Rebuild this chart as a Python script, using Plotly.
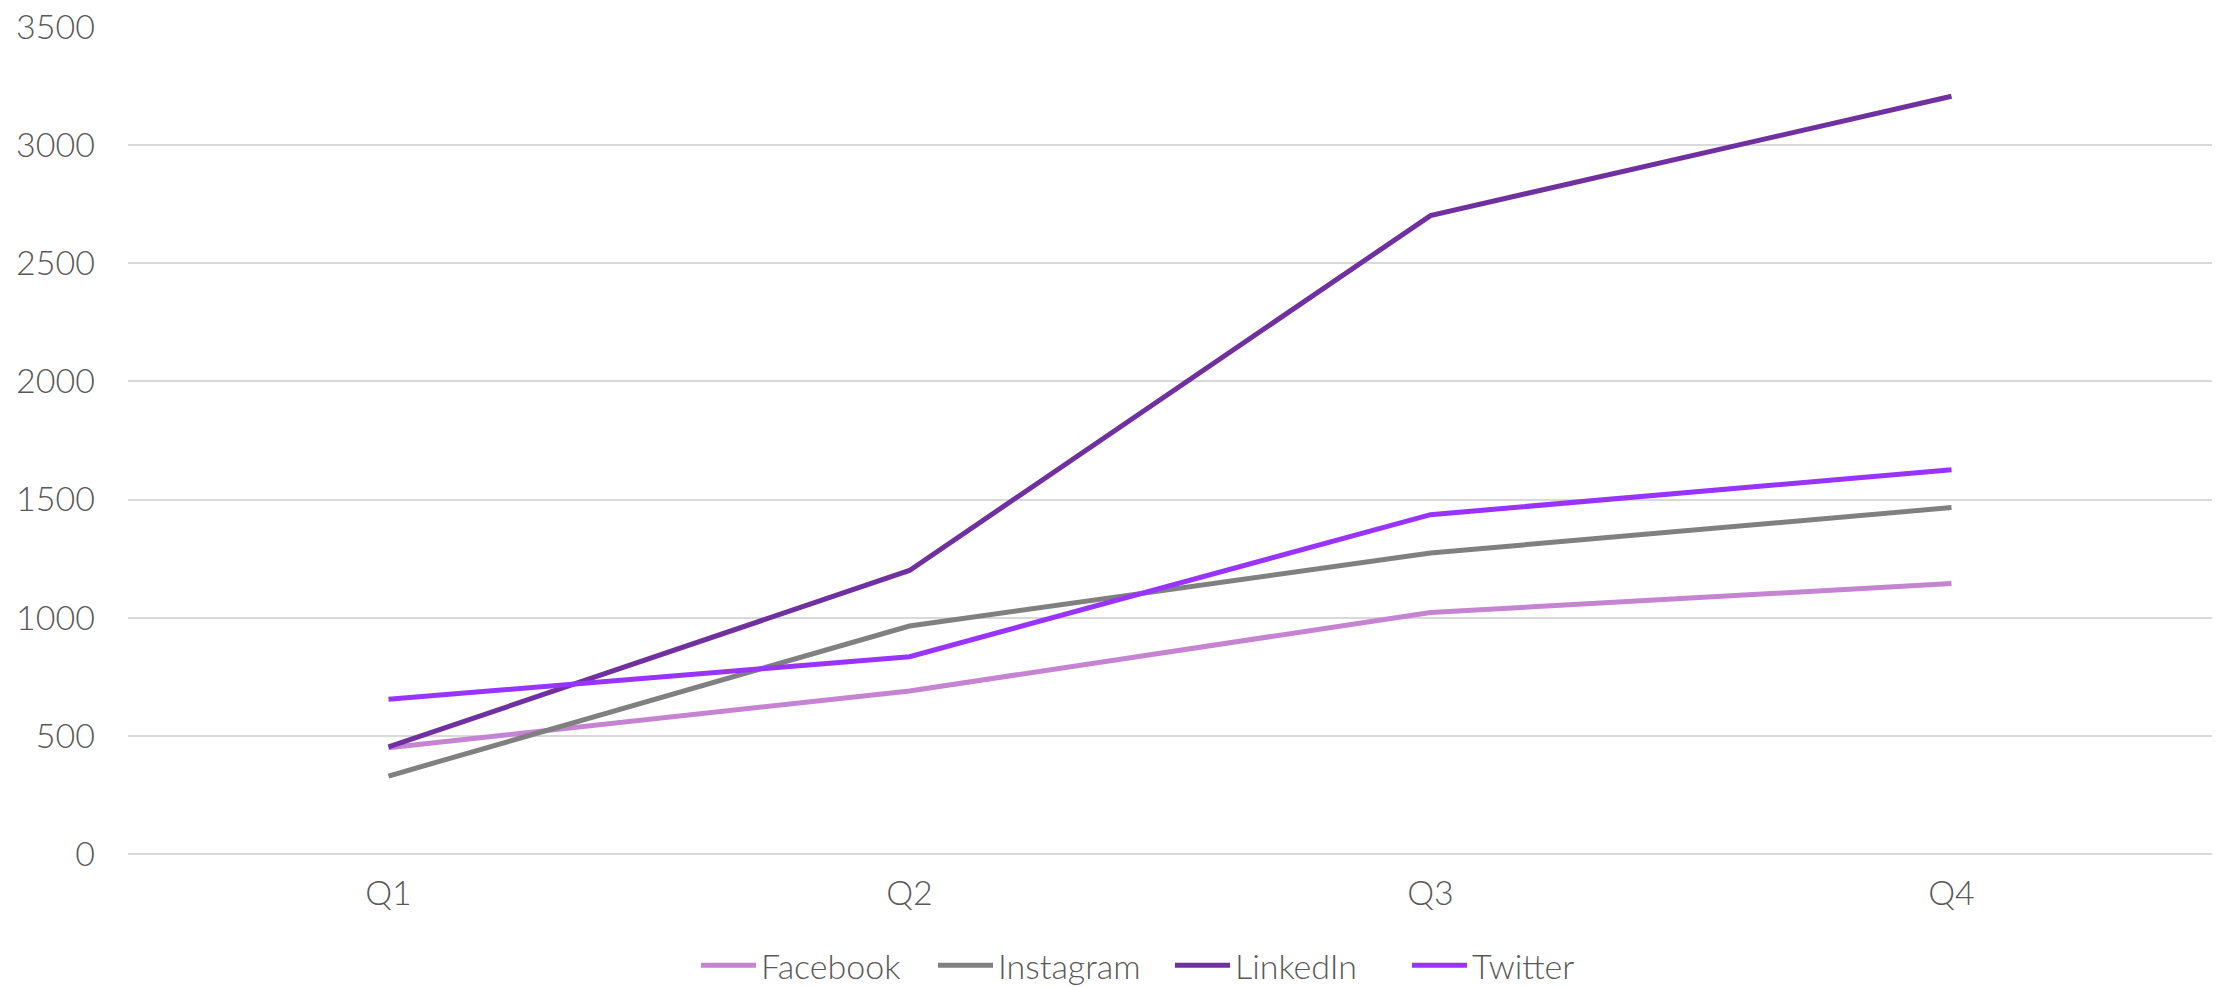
import plotly.graph_objects as go

categories = ["Q1", "Q2", "Q3", "Q4"]
facebook = [450, 690, 1022, 1145]
instagram = [330, 965, 1274, 1466]
linkedin = [453, 1200, 2702, 3207]
twitter = [655, 835, 1436, 1626]

series_names = ["Facebook", "Instagram", "LinkedIn", "Twitter"]
series_values = [facebook, instagram, linkedin, twitter]
series_colors = ["#C583D1", "#808080", "#7030A0", "#9933FF"]

y_ticks = [0, 500, 1000, 1500, 2000, 2500, 3000, 3500]

FONT = "Lato"
TXT = "#595959"
FS = 34

fig = go.Figure()
for name, vals, col in zip(series_names, series_values, series_colors):
    fig.add_trace(go.Scatter(
        x=categories, y=vals, name=name, mode="lines",
        line=dict(color=col, width=5),
    ))

fig.update_layout(
    width=2224, height=987,
    margin=dict(l=128, r=12, t=27, b=133, autoexpand=False),
    paper_bgcolor="white", plot_bgcolor="white",
    font=dict(family=FONT, size=FS, color=TXT, weight=300),
    showlegend=True,
    legend=dict(orientation="h", x=0.5, xanchor="center", y=-0.135, yanchor="middle",
                font=dict(family=FONT, size=FS, color=TXT, weight=300),
                itemwidth=55, tracegroupgap=0, entrywidth=167, entrywidthmode="pixels"),
)
fig.update_xaxes(
    type="category", range=[-0.5, 3.5], showgrid=False, showline=False, zeroline=False,
    ticks="", ticklabelstandoff=16,
    tickfont=dict(family=FONT, size=FS, color=TXT, weight=300),
)
fig.update_yaxes(
    range=[0, 3500], tickvals=y_ticks, showgrid=True, gridcolor="#D9D9D9", gridwidth=2,
    zeroline=True, zerolinecolor="#D9D9D9", zerolinewidth=2, showline=False,
    ticks="", ticklabelstandoff=32,
    tickfont=dict(family=FONT, size=FS, color=TXT, weight=300),
)

fig.write_html("out.html")
